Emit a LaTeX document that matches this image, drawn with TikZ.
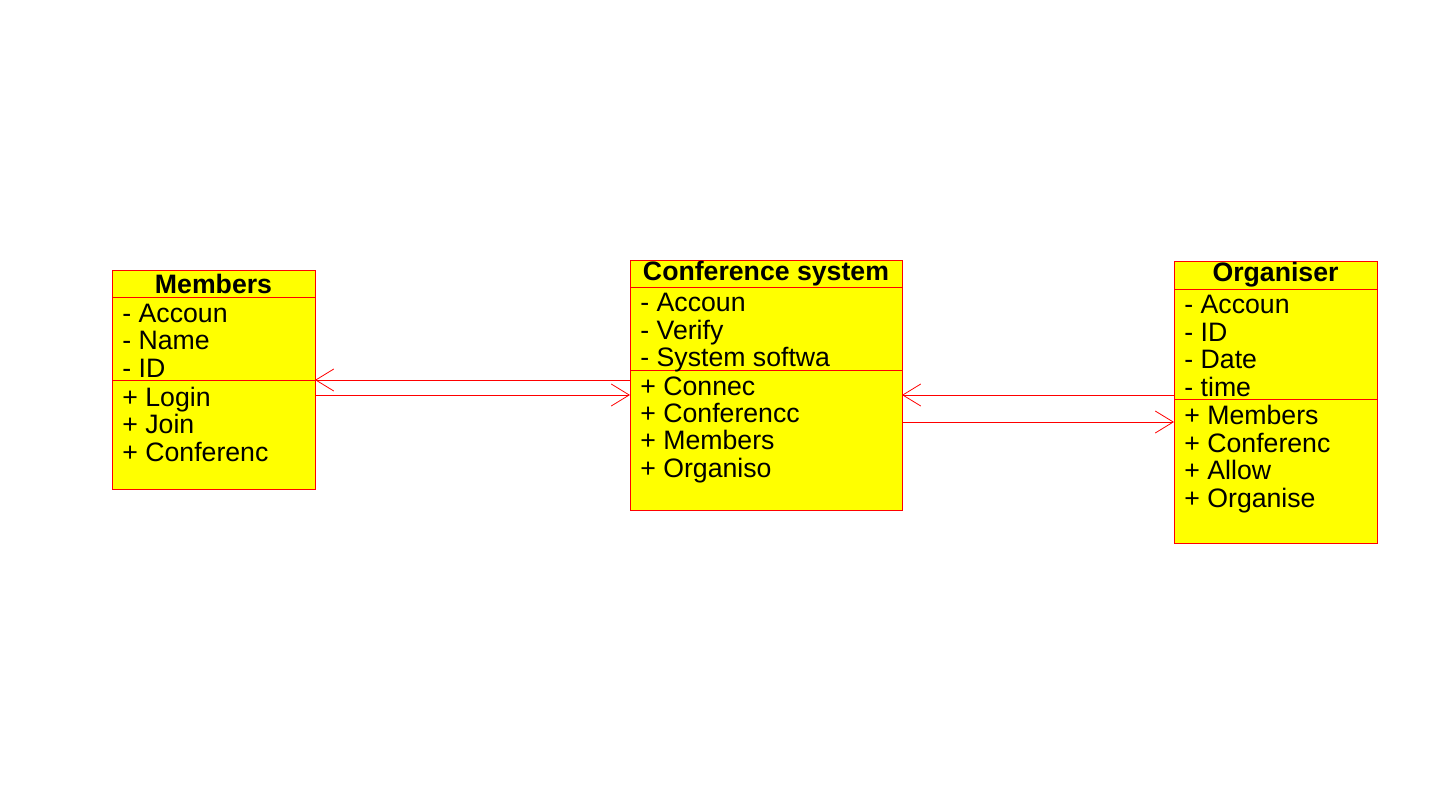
\documentclass[tikz,border=0pt]{standalone}
\usepackage{fontspec}
\setmainfont{Liberation Sans}
\usetikzlibrary{arrows.meta,positioning}
\definecolor{umlred}{RGB}{255,0,0}
\definecolor{umlyellow}{RGB}{255,255,0}

\begin{document}
\begin{tikzpicture}[x=0.75pt,y=-0.75pt,line width=0.6pt]
  \tikzstyle{compart}=[rectangle,draw=umlred,fill=umlyellow,inner sep=0pt,outer sep=0pt]
  \tikzstyle{head}=[compart,font=\fontsize{20}{20.6}\selectfont\bfseries]
  \tikzstyle{items}=[align=left,inner sep=0pt,font=\fontsize{20}{20.6}\selectfont]
  \tikzstyle{assoc}=[draw=umlred,-{Straight Barb[length=13.5pt,width=16.5pt]}]

  \useasboundingbox (0,0) rectangle (1451,803);

  % Members
  \node[head, minimum width=152.25pt, minimum height=20.25pt, anchor=north west] (MT) at (112,270) {Members};
  \node[compart, minimum width=152.25pt, minimum height=62.25pt, below=0pt of MT] (MA) {};
  \node[compart, minimum width=152.25pt, minimum height=81.75pt, below=0pt of MA] (MO) {};
  \node[items, below right=5pt and 7.5pt of MA.north west] (MAt) {- Accoun\\- Name\\- ID};
  \node[items, below right=5pt and 7.5pt of MO.north west] (MOt) {+ Login\\+ Join\\+ Conferenc};

  % Conference system
  \node[head, minimum width=204pt, minimum height=20.25pt, anchor=north west] (CT) at (630,260) {Conference system};
  \node[compart, minimum width=204pt, minimum height=62.25pt, below=0pt of CT] (CA) {};
  \node[compart, minimum width=204pt, minimum height=105pt, below=0pt of CA] (CO) {};
  \node[items, below right=4.5pt and 7.5pt of CA.north west] (CAt) {- Accoun\\- Verify\\- System softwa};
  \node[items, below right=4.5pt and 7.5pt of CO.north west] (COt) {+ Connec\\+ Conferencc\\+ Members\\+ Organiso};

  % Organiser
  \node[head, minimum width=152.25pt, minimum height=21pt, anchor=north west] (OT) at (1174,261) {Organiser};
  \node[compart, minimum width=152.25pt, minimum height=82.5pt, below=0pt of OT] (OA) {};
  \node[compart, minimum width=152.25pt, minimum height=108pt, below=0pt of OA] (OO) {};
  \node[items, below right=4.5pt and 7.5pt of OA.north west] (OAt) {- Accoun\\- ID\\- Date\\- time};
  \node[items, below right=4.5pt and 7.5pt of OO.north west] (OOt) {+ Members\\+ Conferenc\\+ Allow\\+ Organise};

  % associations
  \coordinate (m2c) at ([yshift=-11.25pt]MO.north east);
  \coordinate (o2c) at ([yshift=3pt]OA.south west);
  \coordinate (c2o) at ([yshift=-17.25pt]OO.north west);
  \draw[assoc] (MO.north east -| CO.west) -- (MO.north east);
  \draw[assoc] (m2c) -- (m2c -| CO.west);
  \draw[assoc] (o2c) -- (o2c -| CO.east);
  \draw[assoc] (c2o -| CO.east) -- (c2o);
\end{tikzpicture}
\end{document}
